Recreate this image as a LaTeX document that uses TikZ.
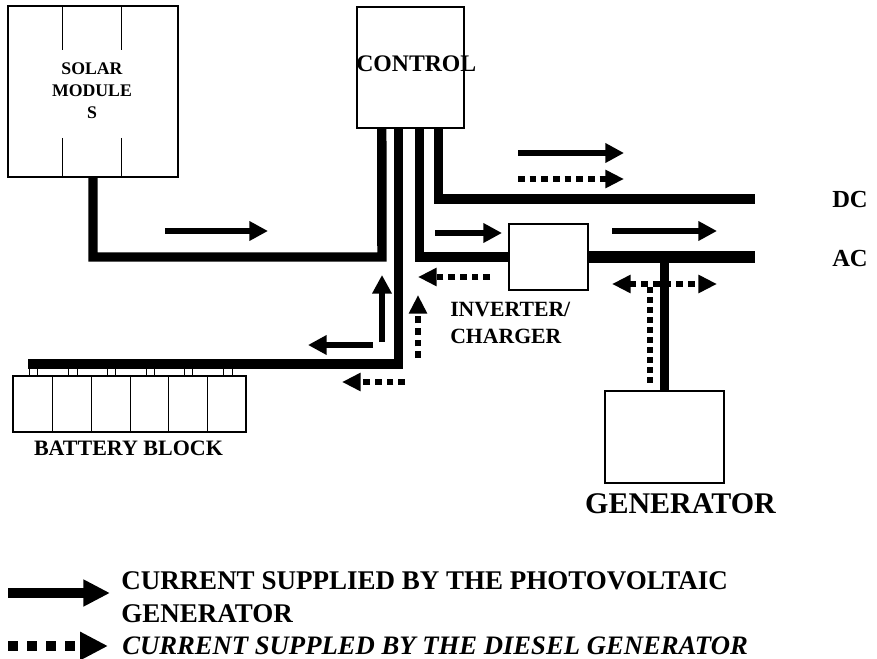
\documentclass[tikz,border=0pt]{standalone}
\usepackage{fontspec}
\setmainfont{Liberation Serif}
\usetikzlibrary{arrows.meta,calc,fit}
\begin{document}
\begin{tikzpicture}[x=0.75pt,y=-0.75pt,
  box/.style={draw,line width=0.8pt,inner sep=0pt,fill=white},
  cellline/.style={line width=0.7pt},
  wire/.style={line width=7.1pt,line join=miter},
  acline/.style={line width=8.4pt},
  genline/.style={line width=6.2pt},
  parrow/.style={line width=4.2pt,-{Triangle[length=14pt,width=14pt]}},
  darrow/.style={line width=5pt,dash pattern=on 5pt off 3.75pt,-{Triangle[length=14pt,width=13pt]}},
  ddarrow/.style={line width=5pt,dash pattern=on 5pt off 3.75pt,{Triangle[length=14pt,width=13pt]}-{Triangle[length=14pt,width=13pt]}},
  dline/.style={line width=4.6pt,dash pattern=on 4.5pt off 3pt},
  lbl/.style={inner sep=0pt,font=\bfseries}]

\useasboundingbox (0,0) rectangle (877,659);
\fill[white] (0,0) rectangle (877,659);

% ---------- wires (drawn first) ----------
\node[inner sep=0pt,fit={(8,6)(178,177)}] (solarfit) {};
\node[inner sep=0pt,fit={(357,7)(464,128)}] (controlfit) {};
\node[inner sep=0pt,fit={(509,224)(588,290)}] (invfit) {};
\node[inner sep=0pt,fit={(605,391)(724,483)}] (genfit) {};

\coordinate (c1) at ($(controlfit.south west)+(25,0)$);
\coordinate (c2) at ($(controlfit.south west)+(42,0)$);
\coordinate (c3) at ($(controlfit.south west)+(63,0)$);
\coordinate (c4) at ($(controlfit.south west)+(82,0)$);
\coordinate (j1) at (382,257);
\coordinate (bl) at (28,364);
\coordinate (dcend) at (755,199);
\coordinate (acend) at (755,257);

\draw[wire] (solarfit.south) |- (j1) -- (c1);
\draw[wire] (bl) -| (c2);
\draw[wire] (c3) |- (invfit.west);
\draw[wire] (c4) |- (dcend);
\draw[acline] (invfit.east) -- (acend);
\draw[genline] (genfit.north) -- (genfit.north |- acend);

% ---------- boxes ----------
\node[box,fit={(8,6)(178,177)}] (solar) {};
\draw[cellline] (62,6) -- (62,50) (121,6) -- (121,50)
                (62,138) -- (62,177) (121,138) -- (121,177);
\node[box,fit={(357,7)(464,128)}] (control) {};
\node[box,fit={(509,224)(588,290)}] (inv) {};
\node[box,fit={(605,391)(724,483)}] (gen) {};

% battery block
\node[box,fit={(13,376)(246,432)}] (batt) {};
\foreach \x in {52,91,130,168,207} \draw[cellline] (\x,376) -- (\x,432);
\foreach \a/\b in {29/37,68/77,107/115,146/154,184/192,223/232}
  \draw[cellline] (\a,368) rectangle (\b,376);

% ---------- labels ----------
\node[lbl,anchor=base,font=\bfseries\fontsize{13.3pt}{16pt}\selectfont] (ts1) at (92,75) {SOLAR};
\node[lbl,anchor=base,font=\bfseries\fontsize{13.3pt}{16pt}\selectfont] (ts2) at (92,97) {MODULE};
\node[lbl,anchor=base,font=\bfseries\fontsize{13.3pt}{16pt}\selectfont] (ts3) at (92,118.5) {S};
\node[lbl,anchor=base west,font=\bfseries\fontsize{17.8pt}{20pt}\selectfont] (tctrl) at (356,71.7) {CONTROL};
\node[lbl,anchor=base west,font=\bfseries\fontsize{18.4pt}{21pt}\selectfont] (tdc) at (832,208) {DC};
\node[lbl,anchor=base west,font=\bfseries\fontsize{18.4pt}{21pt}\selectfont] (tac) at (832,266.7) {AC};
\node[lbl,anchor=base west,font=\bfseries\fontsize{16.3pt}{19pt}\selectfont] (tinv1) at (450,316.7) {INVERTER/};
\node[lbl,anchor=base west,font=\bfseries\fontsize{16.3pt}{19pt}\selectfont] (tinv2) at (450,343.3) {CHARGER};
\node[lbl,anchor=base,font=\bfseries\fontsize{16.5pt}{19pt}\selectfont] (tbatt) at (128.5,455) {BATTERY BLOCK};
\node[lbl,anchor=base,font=\bfseries\fontsize{22.5pt}{26pt}\selectfont] (tgen) at (680.5,513) {GENERATOR};

% ---------- current arrows ----------
\draw[parrow] (165,231) -- (268,231);
\draw[parrow] (518,153) -- (624,153);
\draw[darrow] (518,179) -- (624,179);
\draw[parrow] (435,233) -- (502,233);
\draw[parrow] (612,231) -- (717,231);
\draw[ddarrow] (612,284) -- (717,284);
\draw[dline] (650,287) -- (650,387);
\draw[darrow] (490,277) -- (418,277);
\draw[parrow] (382,342) -- (382,275);
\draw[parrow] (373,345) -- (308,345);
\draw[darrow] (418,358) -- (418,295);
\draw[darrow] (405,382) -- (342,382);

% ---------- legend ----------
\draw[line width=7.5pt,-{Triangle[length=20pt,width=19pt]}] (8,593) -- (110,593);
\draw[line width=7.5pt,dash pattern=on 7.5pt off 6.75pt,-{Triangle[length=21pt,width=20pt]}] (8,646) -- (108,646);
\node[lbl,anchor=base west,font=\bfseries\fontsize{20.25pt}{24pt}\selectfont] (tl1) at (121,589) {CURRENT SUPPLIED BY THE PHOTOVOLTAIC};
\node[lbl,anchor=base west,font=\bfseries\fontsize{20.25pt}{24pt}\selectfont] (tl2) at (121,622) {GENERATOR};
\node[lbl,anchor=base west,font=\bfseries\itshape\fontsize{20pt}{24pt}\selectfont] (tl3) at (122,654.5) {CURRENT SUPPLED BY THE DIESEL GENERATOR};
\end{tikzpicture}
\end{document}
